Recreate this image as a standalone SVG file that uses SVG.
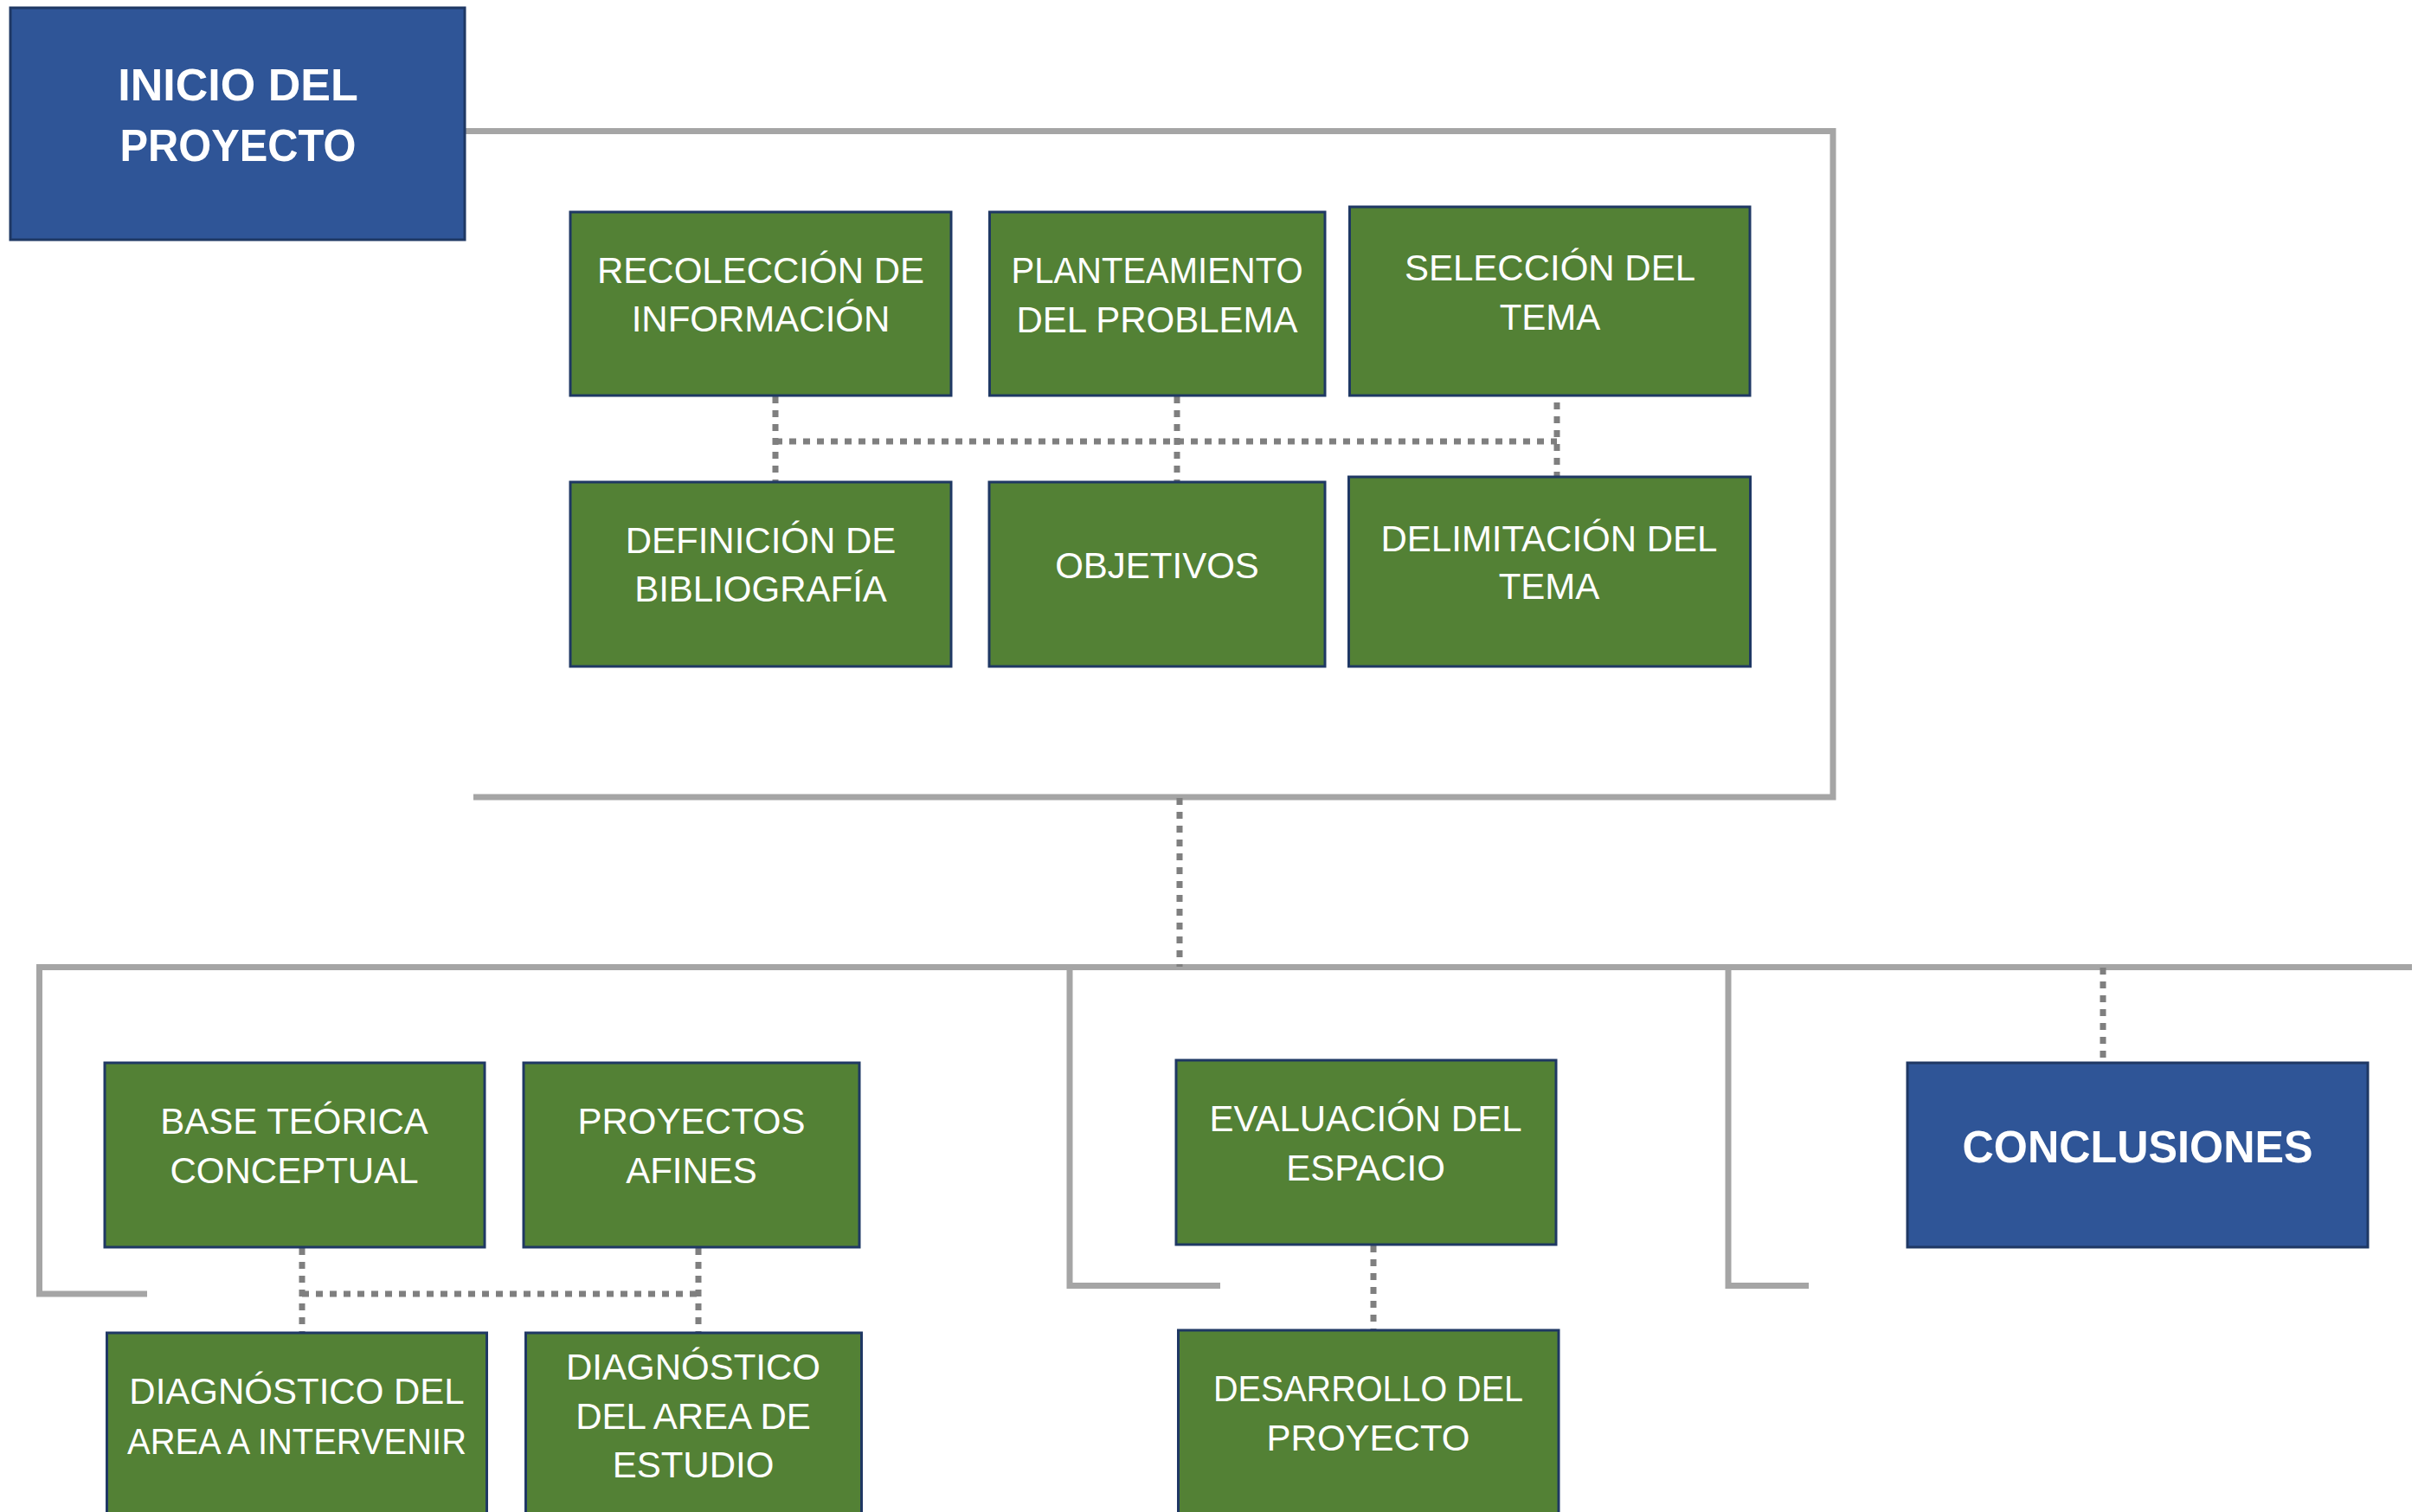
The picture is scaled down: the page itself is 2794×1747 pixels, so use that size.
<svg xmlns="http://www.w3.org/2000/svg" width="2794" height="1747" viewBox="0 0 2794 1747">
<style>
.blue{fill:#2F5597;stroke:#1F3864;stroke-width:3}
.green{fill:#538135;stroke:#1F3864;stroke-width:3}
.t{font-family:"Liberation Sans",Arial,sans-serif;font-size:42px;fill:#FFFFFF;text-anchor:middle}
.tb{font-family:"Liberation Sans",Arial,sans-serif;font-size:52px;font-weight:bold;fill:#FFFFFF;text-anchor:middle}
.solid{fill:none;stroke:#A5A5A5;stroke-width:7}
.dot{fill:none;stroke:#7F7F7F;stroke-width:7;stroke-dasharray:8 8}
</style>
<rect width="2794" height="1747" fill="#FFFFFF"/>
<g id="connectors">
<polyline class="solid" points="538,151.5 2118,151.5 2118,921 547,921"/>
<polyline class="solid" points="170,1495 45.5,1495 45.5,1117.5 2787,1117.5"/>
<polyline class="solid" points="1236,1117.5 1236,1485.5 1410,1485.5"/>
<polyline class="solid" points="1997,1117.5 1997,1485.5 2090,1485.5"/>
<line class="dot" x1="896" y1="458" x2="896" y2="557"/>
<line class="dot" x1="1360" y1="458" x2="1360" y2="557"/>
<line class="dot" x1="1799" y1="465" x2="1799" y2="551"/>
<line class="dot" x1="896" y1="510" x2="1799" y2="510"/>
<line class="dot" x1="1363" y1="922" x2="1363" y2="1117"/>
<line class="dot" x1="349" y1="1442" x2="349" y2="1540"/>
<line class="dot" x1="807" y1="1442" x2="807" y2="1540"/>
<line class="dot" x1="349" y1="1495" x2="807" y2="1495"/>
<line class="dot" x1="1587" y1="1439" x2="1587" y2="1537"/>
<line class="dot" x1="2430" y1="1118" x2="2430" y2="1227"/>
</g>
<g id="inicio">
<rect class="blue" x="12" y="9" width="525" height="268"/>
<text class="tb" x="275" y="116">INICIO DEL</text>
<text class="tb" x="275" y="186" textLength="273" lengthAdjust="spacingAndGlyphs">PROYECTO</text>
</g>
<g id="recoleccion">
<rect class="green" x="659" y="245" width="440" height="212"/>
<text class="t" x="879" y="327">RECOLECCIÓN DE</text>
<text class="t" x="879" y="383">INFORMACIÓN</text>
</g>
<g id="planteamiento">
<rect class="green" x="1143.5" y="245" width="387.5" height="212"/>
<text class="t" x="1337" y="327" textLength="337" lengthAdjust="spacingAndGlyphs">PLANTEAMIENTO</text>
<text class="t" x="1337" y="384">DEL PROBLEMA</text>
</g>
<g id="seleccion">
<rect class="green" x="1559.5" y="239" width="462.5" height="218"/>
<text class="t" x="1791" y="324">SELECCIÓN DEL</text>
<text class="t" x="1791" y="381">TEMA</text>
</g>
<g id="definicion">
<rect class="green" x="659" y="557" width="440" height="213"/>
<text class="t" x="879" y="639">DEFINICIÓN DE</text>
<text class="t" x="879" y="695">BIBLIOGRAFÍA</text>
</g>
<g id="objetivos">
<rect class="green" x="1143" y="557" width="388" height="213"/>
<text class="t" x="1337" y="668">OBJETIVOS</text>
</g>
<g id="delimitacion">
<rect class="green" x="1558.5" y="551" width="464" height="219"/>
<text class="t" x="1790" y="637">DELIMITACIÓN DEL</text>
<text class="t" x="1790" y="692">TEMA</text>
</g>
<g id="base">
<rect class="green" x="121" y="1228" width="439" height="213"/>
<text class="t" x="340" y="1310">BASE TEÓRICA</text>
<text class="t" x="340" y="1367">CONCEPTUAL</text>
</g>
<g id="proyectos">
<rect class="green" x="605" y="1228" width="388" height="213"/>
<text class="t" x="799" y="1310">PROYECTOS</text>
<text class="t" x="799" y="1367">AFINES</text>
</g>
<g id="diag1">
<rect class="green" x="123.5" y="1540" width="439" height="230"/>
<text class="t" x="343" y="1622">DIAGNÓSTICO DEL</text>
<text class="t" x="343" y="1680" textLength="392" lengthAdjust="spacingAndGlyphs">AREA A INTERVENIR</text>
</g>
<g id="diag2">
<rect class="green" x="607.5" y="1540" width="388" height="230"/>
<text class="t" x="801" y="1594">DIAGNÓSTICO</text>
<text class="t" x="801" y="1651">DEL AREA DE</text>
<text class="t" x="801" y="1707">ESTUDIO</text>
</g>
<g id="evaluacion">
<rect class="green" x="1359" y="1225" width="439" height="213"/>
<text class="t" x="1578" y="1307">EVALUACIÓN DEL</text>
<text class="t" x="1578" y="1364">ESPACIO</text>
</g>
<g id="desarrollo">
<rect class="green" x="1361.5" y="1537" width="439.5" height="230"/>
<text class="t" x="1581" y="1619" textLength="358" lengthAdjust="spacingAndGlyphs">DESARROLLO DEL</text>
<text class="t" x="1581" y="1676">PROYECTO</text>
</g>
<g id="conclusiones">
<rect class="blue" x="2204" y="1228" width="532" height="213"/>
<text class="tb" x="2470" y="1343" textLength="405" lengthAdjust="spacingAndGlyphs">CONCLUSIONES</text>
</g>
</svg>
